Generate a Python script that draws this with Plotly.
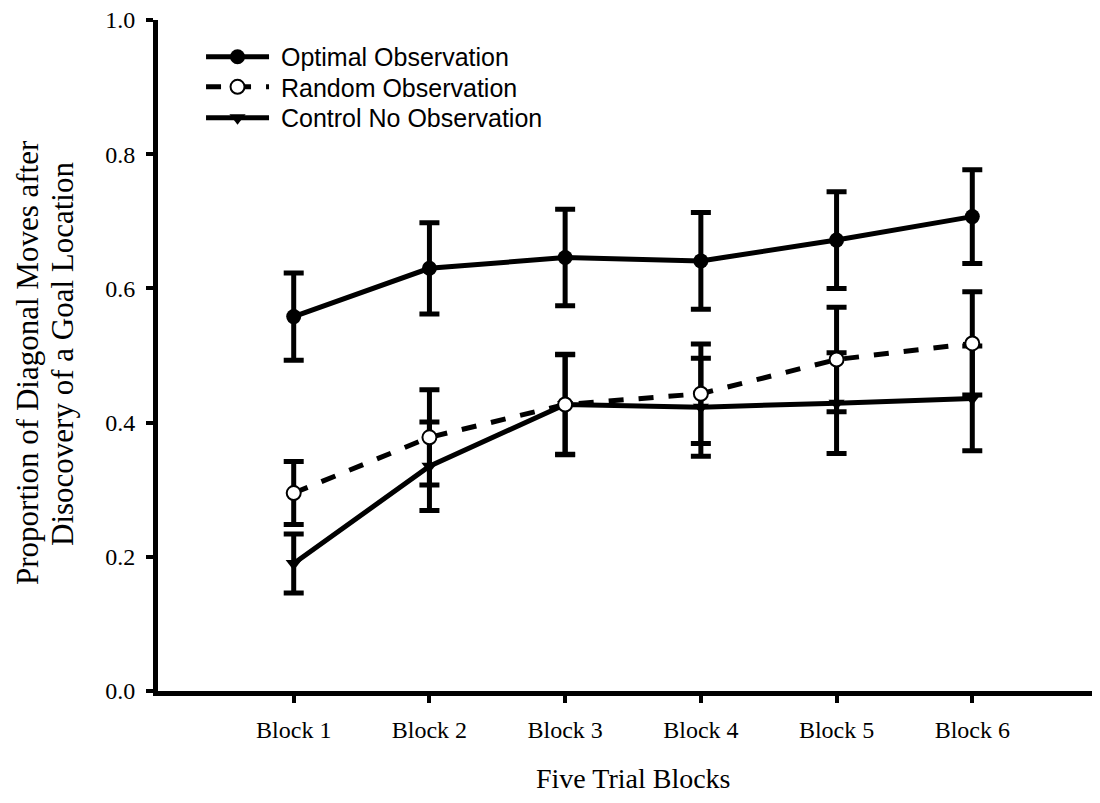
import plotly.graph_objects as go

blocks = ["Block 1", "Block 2", "Block 3", "Block 4", "Block 5", "Block 6"]
y_ticks = [0.0, 0.2, 0.4, 0.6, 0.8, 1.0]

optimal = [0.558, 0.630, 0.646, 0.641, 0.672, 0.707]
optimal_err = [0.065, 0.068, 0.072, 0.072, 0.072, 0.070]

random_obs = [0.295, 0.378, 0.427, 0.443, 0.494, 0.518]
random_err = [0.047, 0.071, 0.075, 0.074, 0.078, 0.077]

control = [0.190, 0.335, 0.427, 0.423, 0.429, 0.436]
control_err = [0.044, 0.066, 0.074, 0.073, 0.075, 0.078]

names = ["Optimal Observation", "Random Observation", "Control No Observation"]

SERIF = "Liberation Serif"
SANS = "Liberation Sans"
PAD = "\u00a0"

def err(arr):
    return dict(type="data", array=arr, visible=True, color="black", thickness=5, width=10)

fig = go.Figure()
fig.add_trace(go.Scatter(
    x=blocks, y=optimal, name=PAD + names[0], mode="lines+markers", legend="legend",
    line=dict(color="black", width=5),
    marker=dict(symbol="circle", size=15, color="black"),
    error_y=err(optimal_err)))
fig.add_trace(go.Scatter(
    x=blocks, y=control, name=PAD + names[2], mode="lines+markers", legend="legend3",
    line=dict(color="black", width=5),
    marker=dict(symbol="triangle-down", size=14, color="black"),
    error_y=err(control_err)))
fig.add_trace(go.Scatter(
    x=blocks, y=random_obs, name=PAD + names[1], mode="lines+markers", legend="legend2",
    line=dict(color="black", width=5, dash="dash"),
    marker=dict(symbol="circle", size=14, color="white", line=dict(color="black", width=2)),
    error_y=err(random_err)))

def leg(y):
    return dict(x=0.0453, y=y, xanchor="left", yanchor="middle",
                font=dict(family=SANS, size=25, color="black"),
                bgcolor="rgba(0,0,0,0)", itemwidth=63)

fig.update_layout(
    width=1100, height=803,
    margin=dict(l=150, r=0, t=12, b=120),
    paper_bgcolor="white", plot_bgcolor="white",
    showlegend=True,
    legend=leg(0.9449),
    legend2=leg(0.9001),
    legend3=leg(0.8540),
    xaxis=dict(
        type="category", range=[-1, 6], showgrid=False, zeroline=False,
        showline=True, linecolor="black", linewidth=5,
        ticks="outside", ticklen=7, tickwidth=4, tickcolor="black",
        tickfont=dict(family=SERIF, size=24, color="black"),
        ticklabelstandoff=6),
    yaxis=dict(
        range=[0, 1], tickvals=y_ticks, tickformat=".1f", showgrid=False, zeroline=False,
        showline=True, linecolor="black", linewidth=5,
        ticks="outside", ticklen=7, tickwidth=4, tickcolor="black",
        tickfont=dict(family=SERIF, size=24, color="black"),
        ticklabelstandoff=6, ticklabeloverflow="allow"),
    annotations=[
        dict(text="Proportion of Diagonal Moves after", textangle=-90,
             xref="paper", yref="paper", x=-0.1379, y=0.4903,
             xanchor="center", yanchor="middle", showarrow=False,
             font=dict(family=SERIF, size=31, color="black")),
        dict(text="Disocovery of a Goal Location", textangle=-90,
             xref="paper", yref="paper", x=-0.1011, y=0.5022,
             xanchor="center", yanchor="middle", showarrow=False,
             font=dict(family=SERIF, size=31, color="black")),
        dict(text="Five Trial Blocks",
             xref="paper", yref="paper", x=0.5, y=-0.131,
             xanchor="center", yanchor="middle", showarrow=False,
             font=dict(family=SERIF, size=28, color="black")),
    ],
)

fig.write_html("out.html")
